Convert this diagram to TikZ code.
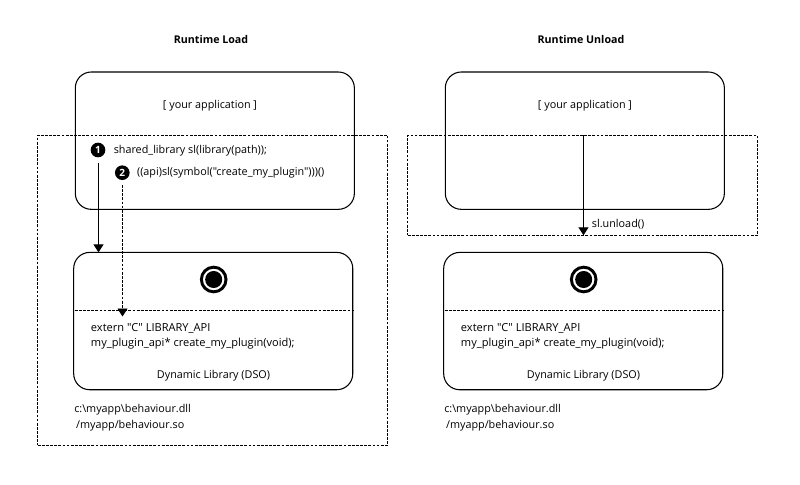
\documentclass[tikz,border=0pt]{standalone}
\usepackage{fontspec}
\setmainfont[Ligatures=TeXOff]{Open Sans}
\usetikzlibrary{arrows.meta,positioning}
\tikzset{
  px/.style={x=0.75pt,y=-0.75pt},
  roundbox/.style={draw=black,line width=0.8pt,rounded corners=12pt,minimum width=209.3pt,minimum height=103pt,inner sep=0pt,outer sep=0pt,anchor=north west},
  zone/.style={draw=black,line width=0.7pt,dash pattern=on 2.1pt off 1pt,inner sep=0pt,outer sep=0pt,anchor=north west},
  txt/.style={font=\fontsize{8.1pt}{11.25pt}\selectfont,inner sep=0pt,text=black},
  txtw/.style={font=\fontsize{8.3pt}{11.25pt}\selectfont,inner sep=0pt,text=black},
  ttl/.style={font=\fontsize{8pt}{10pt}\selectfont\bfseries,inner sep=0pt},
  badge/.style={circle,fill=black,text=white,minimum size=11pt,inner sep=0pt,outer sep=0pt,font=\fontsize{7.5pt}{8pt}\selectfont\bfseries},
  arr/.style={line width=0.8pt,-{Triangle[width=7.5pt,length=6pt]}},
  darr/.style={line width=0.7pt,dash pattern=on 2.1pt off 1pt,-{Triangle[width=7.5pt,length=6pt,sep=0pt]}},
  dsep/.style={line width=0.7pt,dash pattern=on 2.1pt off 1pt},
  ringo/.style={circle,draw=black,line width=2.2pt,minimum size=18.5pt,inner sep=0pt,outer sep=0pt},
  ringi/.style={circle,fill=black,minimum size=12.8pt,inner sep=0pt,outer sep=0pt},
}
\begin{document}
\begin{tikzpicture}[px]
\useasboundingbox (0,0) rectangle (800,485);
\node[ttl] (t1) at (211,39.5) {Runtime Load};
\node[ttl] (t2) at (581,39.5) {Runtime Unload};
% boxes
\node[roundbox] (app1) at (75.3,72) {};
\node[roundbox] (lib1) at (73.7,252.4) {};
\node[roundbox] (app2) at (445.3,72) {};
\node[roundbox] (lib2) at (443.7,252.4) {};
% zones
\node[zone,minimum width=262.6pt,minimum height=232.6pt] (z1) at (37.7,135.3) {};
\node[zone,minimum width=262.2pt,minimum height=75pt] (z2) at (407.7,135.3) {};
% app labels
\node[txt] (a1) at (210,105.2) {[ your application ]};
\node[txt] (a2) at (585,105.2) {[ your application ]};
% steps
\node[badge] (b1) at (98,150) {1};
\node[badge] (b2) at (122.3,172.7) {2};
\node[txt,anchor=west] (c1) at (113.5,150.8) {shared\_library sl(library(path));};
\node[txt,anchor=west] (c2) at (136.8,172.2) {((api)sl(symbol("create\_my\_plugin")))()};
% rings
\node[ringo] (r1) at (213.7,279.5) {};
\node[ringi] (ri1) at (213.7,279.5) {};
\node[ringo] (r2) at (583.7,279.5) {};
\node[ringi] (ri2) at (583.7,279.5) {};
% separators
\coordinate (s1l) at (74.7,310.5); \coordinate (s1r) at (353.5,310.5);
\coordinate (s2l) at (444.7,310.5); \coordinate (s2r) at (723.5,310.5);
\draw[dsep] (s1l) -- (s1r);
\draw[dsep] (s2l) -- (s2r);
% library text
\node[txtw,anchor=north west,align=left] (e1) at (90.7,323.2) {extern "C" LIBRARY\_API\\my\_plugin\_api* create\_my\_plugin(void);};
\node[txtw,anchor=north west,align=left] (e2) at (460.7,323.2) {extern "C" LIBRARY\_API\\my\_plugin\_api* create\_my\_plugin(void);};
\node[txt] (d1) at (213.5,375.8) {Dynamic Library (DSO)};
\node[txt] (d2) at (583.5,375.8) {Dynamic Library (DSO)};
\node[txt,anchor=north west,align=left] (p1) at (74,404) {c:\textbackslash myapp\textbackslash behaviour.dll\\[0.6pt]\,/myapp/behaviour.so};
\node[txt,anchor=north west,align=left] (p2) at (444,404) {c:\textbackslash myapp\textbackslash behaviour.dll\\[0.6pt]\,/myapp/behaviour.so};
\node[txt,anchor=west] (u) at (591.7,223.8) {sl.unload()};
% connectors
\coordinate (f1) at (98.5,162.7);
\draw[arr] (f1) -- (f1 |- lib1.north);
\coordinate (f3) at (122.5,185);
\coordinate (f4) at (122.5,316.5);
\draw[darr] (f3) -- (f4);
\coordinate (f2) at (583.5,135.3);
\draw[arr] (f2) -- (f2 |- z2.south);
\end{tikzpicture}
\end{document}
